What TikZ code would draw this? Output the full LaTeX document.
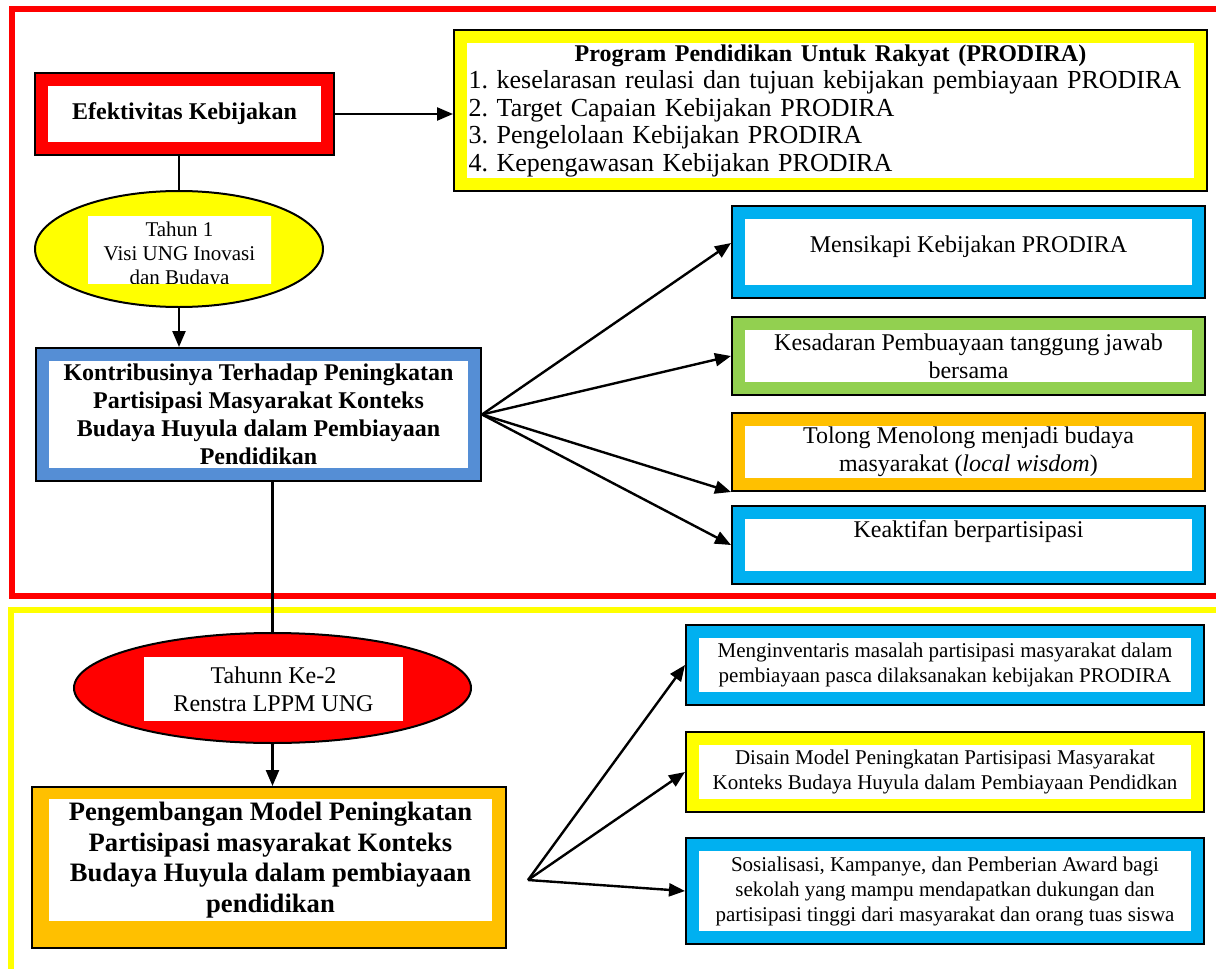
\documentclass[tikz,border=0pt]{standalone}
\usepackage{fontspec}
\setmainfont{Liberation Serif}
\usepackage{xcolor}
\usepackage{tikz}
\usetikzlibrary{arrows.meta,shapes.geometric}
\definecolor{PanelRed}{HTML}{FF0000}
\definecolor{PanelYellow}{HTML}{FFFF00}
\definecolor{PanelBlue}{HTML}{558ED5}
\definecolor{PanelCyan}{HTML}{00B0F0}
\definecolor{PanelGreen}{HTML}{92D050}
\definecolor{PanelOrange}{HTML}{FFC000}
\tikzset{
  zone/.style={draw=#1, line width=2.8pt},
  panel/.style={fill=white, draw=#1, line width=6pt,
    preaction={draw=black, line width=8pt},
    inner sep=0pt, outer sep=4pt, align=center},
  oval/.style={ellipse, draw=black, line width=1pt, fill=#1, inner sep=0pt},
  tag/.style={fill=white, inner sep=0pt, align=center},
  link/.style={line width=1.2pt},
  flow/.style={link, -{Triangle[length=8pt,width=6.5pt]}}
}

\begin{document}
\begin{tikzpicture}[x=0.5pt, y=-0.5pt]
  \useasboundingbox (0,0) rectangle (1216,969);
  \clip (0,0) rectangle (1216,969);
  \fill[white] (0,0) rectangle (1216,969);
  \draw[zone=PanelRed] (1240,9) -- (12,9) -- (12,596) -- (1240,596);
  \draw[zone=PanelYellow] (1240,610) -- (11,610) -- (11,990);

  \node[panel=PanelRed, minimum width=142.5pt, minimum height=34pt,
    font=\fontsize{12}{14}\selectfont\bfseries] (efek) at (184.5,114) {Efektivitas Kebijakan};
  \node[panel=PanelYellow, minimum width=369.5pt, minimum height=73.5pt,
    align=left, text width=362pt, font=\fontsize{13}{13.75}\selectfont] (prodira) at (830.5,110.5) {%
    {\centering\fontsize{12}{13.75}\selectfont\bfseries Program Pendidikan Untuk Rakyat (PRODIRA)\par}
    1.\ keselarasan reulasi dan tujuan kebijakan pembiayaan PRODIRA\\
    2.\ Target Capaian Kebijakan PRODIRA\\
    3.\ Pengelolaan Kebijakan PRODIRA\\
    4.\ Kepengawasan Kebijakan PRODIRA};

  \node[oval=PanelYellow, minimum width=144pt, minimum height=58pt] (tahunI) at (179,249) {};
  \begin{scope}
    \clip (88,216) rectangle (271,283);
    \node[tag, minimum width=100pt, minimum height=45pt,
      font=\fontsize{10.5}{12}\selectfont] (tahunItext) at (179.5,255)
      {Tahun 1\\Visi UNG Inovasi\\dan Budaya};
  \end{scope}

  \node[panel=PanelBlue, minimum width=215.5pt, minimum height=59.5pt,
    font=\fontsize{12}{14}\selectfont\bfseries] (kontribusi) at (258.5,414.5)
    {Kontribusinya Terhadap Peningkatan\\Partisipasi Masyarakat Konteks\\Budaya Huyula dalam Pembiayaan\\Pendidikan};

  \node[panel=PanelCyan, minimum width=229.5pt, minimum height=39pt,
    text depth=8pt, font=\fontsize{12}{14}\selectfont] (mensikapi) at (968.5,252)
    {Mensikapi Kebijakan PRODIRA};
  \node[panel=PanelGreen, minimum width=229.5pt, minimum height=32pt,
    font=\fontsize{12}{14}\selectfont] (kesadaran) at (968.5,356)
    {Kesadaran Pembuayaan tanggung jawab\\bersama};
  \node[panel=PanelOrange, minimum width=229.5pt, minimum height=32pt,
    font=\fontsize{12}{14}\selectfont] (tolong) at (968.5,452)
    {Tolong Menolong menjadi budaya\\masyarakat (\textit{local wisdom})};
  \node[panel=PanelCyan, minimum width=229.5pt, minimum height=32pt,
    text depth=16pt, font=\fontsize{12}{14}\selectfont] (keaktifan) at (968.5,545)
    {Keaktifan berpartisipasi};

  \node[oval=PanelRed, minimum width=198.5pt, minimum height=55pt] (tahunII) at (272.5,688) {};
  \node[tag, minimum width=129.5pt, minimum height=32pt,
    font=\fontsize{12}{14}\selectfont] (tahunIItext) at (273.5,689)
    {Tahunn Ke-2\\Renstra LPPM UNG};

  \node[draw=black, line width=1pt, fill=PanelOrange, inner sep=0pt,
    minimum width=237pt, minimum height=80.5pt] (pengembangan) at (269,867.5) {};
  \node[tag, minimum width=221.5pt, minimum height=61pt,
    font=\fontsize{13.3}{15.3}\selectfont\bfseries] (pengembangantext) at (270.5,860)
    {Pengembangan Model Peningkatan\\Partisipasi masyarakat Konteks\\Budaya Huyula dalam pembiayaan\\pendidikan};

  \node[panel=PanelCyan, minimum width=252pt, minimum height=33pt,
    font=\fontsize{10.5}{12.5}\selectfont] (inventaris) at (945,665)
    {Menginventaris masalah partisipasi masyarakat dalam\\pembiayaan pasca dilaksanakan kebijakan PRODIRA};
  \node[panel=PanelYellow, minimum width=252pt, minimum height=33pt,
    font=\fontsize{10.5}{12.5}\selectfont] (disain) at (945,772)
    {Disain Model Peningkatan Partisipasi Masyarakat\\Konteks Budaya Huyula dalam Pembiayaan Pendidkan};
  \node[panel=PanelCyan, minimum width=252pt, minimum height=46pt,
    font=\fontsize{10.5}{12.5}\selectfont] (sosialisasi) at (945,891)
    {Sosialisasi, Kampanye, dan Pemberian Award bagi\\sekolah yang mampu mendapatkan dukungan dan\\partisipasi tinggi dari masyarakat dan orang tuas siswa};

  \draw[flow] (efek.east) -- (efek.east -| prodira.west);
  \draw[link] (efek.south -| tahunI.north) -- (tahunI.north);
  \draw[flow] (tahunI.south) -- (tahunI.south |- kontribusi.north);
  \draw[link] (kontribusi.south -| tahunII.north) -- (tahunII.north);
  \draw[flow] (tahunII.south) -- (tahunII.south |- pengembangan.north);

  \draw[flow] (kontribusi.east) -- ([yshift=4.5pt]mensikapi.west);
  \draw[flow] (kontribusi.east) -- (kesadaran.west);
  \draw[flow] (kontribusi.east) -- (tolong.south west);
  \draw[flow] (kontribusi.east) -- (keaktifan.west);

  \coordinate (hub) at (528,880);
  \foreach \dest in {inventaris, disain, sosialisasi}
    \draw[flow] (hub) -- (\dest.west);
\end{tikzpicture}
\end{document}
